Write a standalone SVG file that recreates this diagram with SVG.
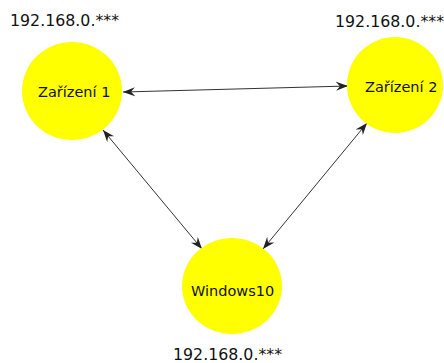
<svg xmlns="http://www.w3.org/2000/svg" width="444" height="363" viewBox="0 0 444 363">
<style>
.node{fill:#ffff00;stroke:none}
.lbl{font-family:"DejaVu Sans",Verdana,sans-serif;font-size:14.5px;fill:#111}
.ip{font-family:"DejaVu Sans",Verdana,sans-serif;font-size:15.8px;fill:#111}
.edge{stroke:#333;stroke-width:1;fill:none;marker-start:url(#arr);marker-end:url(#arr)}
</style>
<defs>
<marker id="arr" viewBox="0 0 12 10" refX="12" refY="5" markerWidth="12" markerHeight="10" markerUnits="userSpaceOnUse" orient="auto-start-reverse">
<path d="M0,0.5 L12,5 L0,9.5 L4,5 z" fill="#222"/>
</marker>
</defs>
<rect width="444" height="363" fill="#ffffff"/>
<g id="connectors">
<line class="edge" x1="123" y1="92" x2="348" y2="86"/>
<line class="edge" x1="103" y1="130" x2="202" y2="249"/>
<line class="edge" x1="367" y1="123" x2="263" y2="249"/>
</g>
<g id="zarizeni1">
<ellipse class="node" cx="72" cy="91" rx="50" ry="49"/>
<text class="lbl" x="38" y="97">Zařízení 1</text>
<text class="ip" x="10" y="26">192.168.0.***</text>
</g>
<g id="zarizeni2">
<ellipse class="node" cx="395" cy="85" rx="48" ry="48"/>
<text class="lbl" x="365" y="92">Zařízení 2</text>
<text class="ip" x="335" y="27">192.168.0.***</text>
</g>
<g id="windows10">
<ellipse class="node" cx="232" cy="286" rx="50" ry="48"/>
<text class="lbl" x="191" y="296">Windows10</text>
<text class="ip" x="173" y="360">192.168.0.***</text>
</g>
</svg>
